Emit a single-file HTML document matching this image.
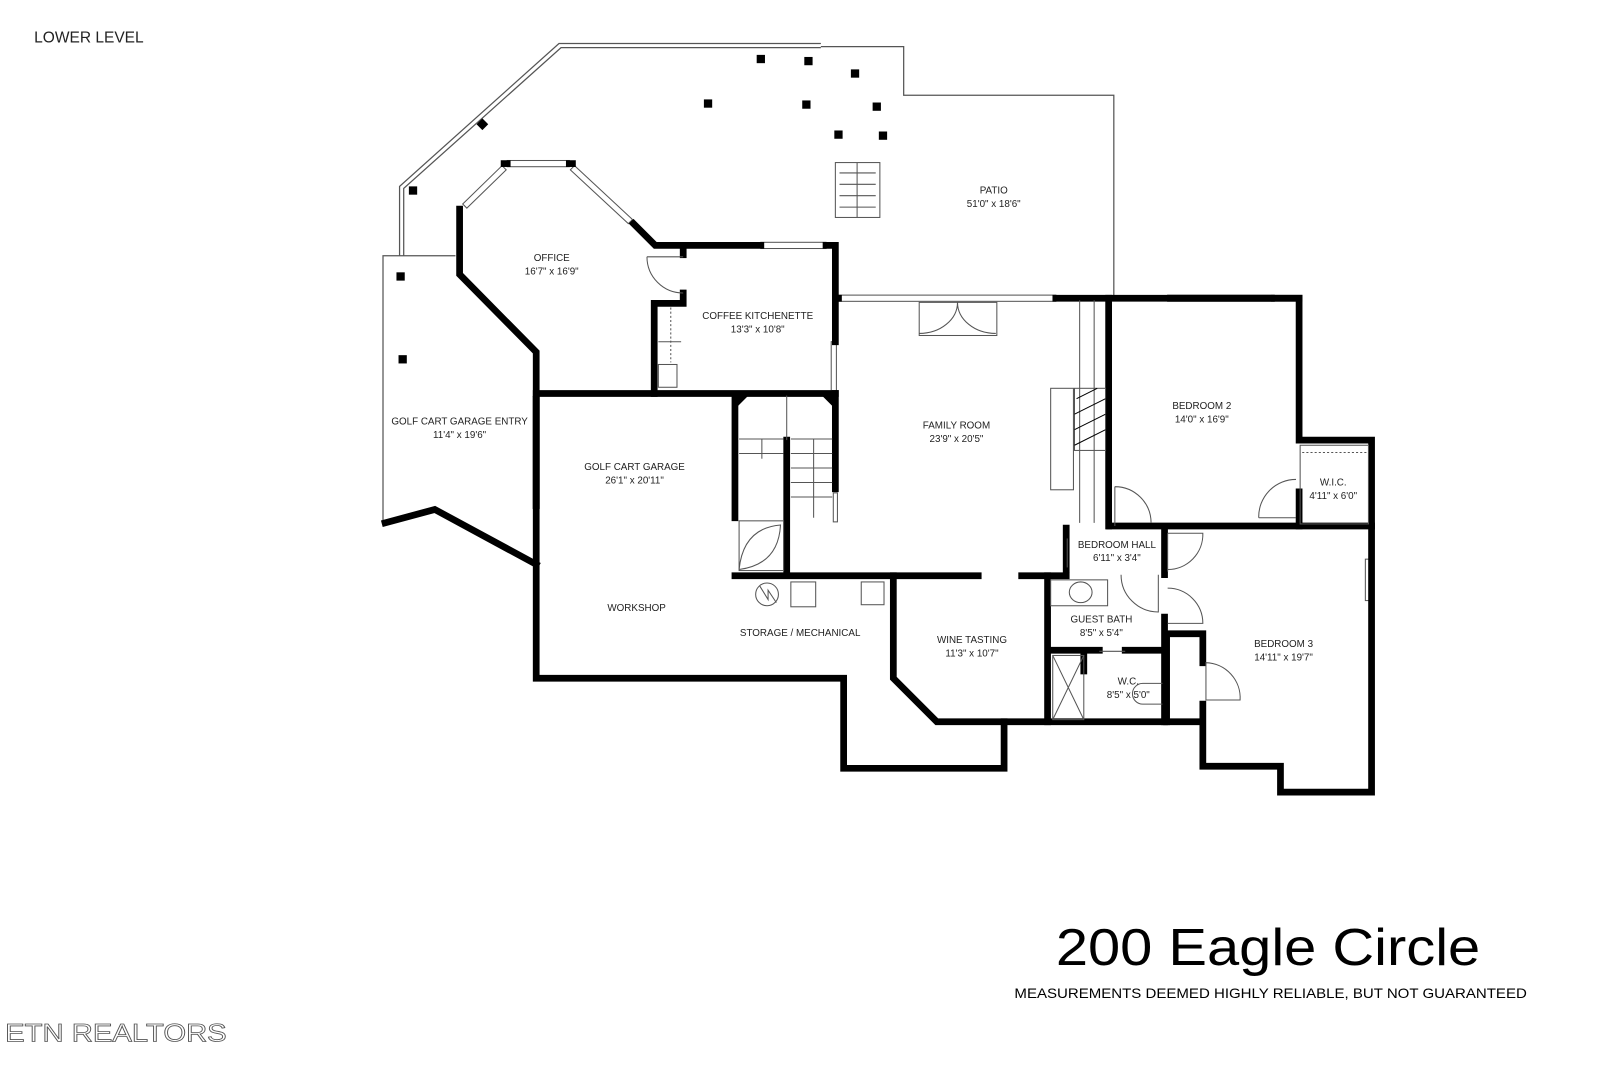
<!DOCTYPE html>
<html><head><meta charset="utf-8"><style>
html,body{margin:0;padding:0;background:#fff;width:1620px;height:1080px;overflow:hidden}
svg{display:block}
text{font-family:"Liberation Sans",sans-serif;fill:#222}
.l{font-size:9.5px;text-anchor:middle}
</style></head><body>
<svg width="1620" height="1080" viewBox="0 0 1565 1043" preserveAspectRatio="none" xmlns="http://www.w3.org/2000/svg">
<rect width="1565" height="1043" fill="#fff"/>
<g fill="none" stroke="#555" stroke-width="1.2">
<polyline points="386,247 386,180 540,42 793,42"/>
<polyline points="390,247 390,182 542,46 793,46"/>
<polyline points="793,45 873,45 873,92 1076,92 1076,286"/>
<polyline points="440,247 370,247 370,505"/>
</g>
<g fill="#000">
<rect x="731" y="53" width="8" height="8"/><rect x="777" y="55" width="8" height="8"/><rect x="822" y="67" width="8" height="8"/>
<rect x="680" y="96" width="8" height="8"/><rect x="775" y="97" width="8" height="8"/><rect x="843" y="99" width="8" height="8"/>
<rect x="806" y="126" width="8" height="8"/><rect x="849" y="127" width="8" height="8"/>
<rect x="462" y="116" width="8" height="8" transform="rotate(45 466 120)"/>
<rect x="395" y="180" width="8" height="8"/><rect x="383" y="263" width="8" height="8"/><rect x="385" y="343" width="8" height="8"/>
</g>
<g fill="none" stroke="#555" stroke-width="1">
<rect x="807" y="157" width="43" height="53"/><line x1="828" y1="157" x2="828" y2="210"/>
<line x1="811" y1="167" x2="846" y2="167"/><line x1="811" y1="178" x2="846" y2="178"/><line x1="811" y1="189" x2="846" y2="189"/><line x1="811" y1="200" x2="846" y2="200"/>
</g>
<g fill="#fff" stroke="#555" stroke-width="1">
<rect x="490" y="155" width="60" height="6"/>
<polygon points="447,197 485,160 489,164 451,201"/>
<polygon points="555,160 611,212 607,216 551,164"/>
<rect x="735" y="234" width="63" height="6"/>
<rect x="810" y="285" width="210" height="6"/>
<rect x="1128" y="285" width="103" height="6"/>
<rect x="515" y="383" width="6" height="108"/>
<rect x="1319" y="540" width="6" height="40"/>
<rect x="803" y="330" width="5" height="50"/>
<rect x="805" y="476" width="4" height="28"/>
</g>
<g fill="none" stroke="#000" stroke-width="6.5" stroke-linejoin="miter" stroke-linecap="square">
<polyline points="372,505 420,492 518,545"/>
<polyline points="444,202 444,265 518,340 518,655 815,655 815,742 970,742 970,697 1160,697"/>
<polyline points="487,158 490,158"/><polyline points="550,158 553,158"/>
<polyline points="612,216 633,237 735,237"/>
<polyline points="798,237 807,237 807,288 810,288"/>
<polyline points="660,237 660,246"/>
<polyline points="660,283 660,293 632,293 632,380"/>
<polyline points="518,380 807,380"/>
<polyline points="1020,288 1255,288"/>
<polyline points="1231,288 1255,288 1255,425 1325,425 1325,765 1237,765 1237,740 1162,740 1162,680"/>
<polyline points="1162,640 1162,612 1127,612 1127,697"/>
<polyline points="1071,288 1071,508"/>
<polyline points="1072,508 1325,508"/>
<polyline points="1255,475 1255,508"/>
<polyline points="807,330 807,288"/>
<polyline points="807,380 807,472"/>
<polyline points="710,385 710,500"/><polyline points="760,425 760,555"/>
<polyline points="710,556 945,556"/><polyline points="987,556 1030,556"/>
<polyline points="863,556 863,655 905,697 970,697"/>
<polyline points="1012,556 1012,697"/>
<polyline points="1030,510 1030,550"/>
<polyline points="1125,510 1125,555"/><polyline points="1125,596 1125,697"/>
<polyline points="1015,628 1062,628"/><polyline points="1087,628 1125,628"/>
<polyline points="1047,632 1047,648"/>
</g>
<g fill="#000"><polygon points="710,380 725,380 710,395"/><polygon points="807,380 792,380 807,395"/></g>
<g fill="none" stroke="#555" stroke-width="1">
<line x1="760" y1="382" x2="760" y2="425"/>
<line x1="714" y1="424" x2="757" y2="424"/><line x1="714" y1="438" x2="757" y2="438"/>
<line x1="764" y1="424" x2="804" y2="424"/><line x1="764" y1="438" x2="804" y2="438"/><line x1="764" y1="452" x2="804" y2="452"/><line x1="764" y1="466" x2="804" y2="466"/><line x1="764" y1="480" x2="804" y2="480"/>
<line x1="786" y1="424" x2="786" y2="500"/>
<line x1="736" y1="424" x2="736" y2="443"/>
<rect x="714" y="503" width="43" height="48"/>
<path d="M714,550 Q718,510 754,507 Q752,545 714,550"/>
<path d="M625,248 L660,248 M625,248 A35,35 0 0 0 660,283"/>
<rect x="888" y="292" width="75" height="32"/>
<path d="M925,292 A37,30 0 0 1 888,322 M925,292 A37,30 0 0 0 962,322"/>
<path d="M1077,470 L1077,508 M1077,470 A35,35 0 0 1 1112,505"/>
<path d="M1216,500 L1252,500 M1216,500 A36,36 0 0 1 1252,463"/>
<path d="M1128,515 L1128,552 M1128,515 L1162,515 A34,34 0 0 1 1128,550"/>
<path d="M1128,568 A34,34 0 0 1 1162,602 L1128,602"/>
<path d="M1165,640 A34,34 0 0 1 1198,676 L1165,676 Z"/>
<path d="M1083,555 A36,36 0 0 0 1119,591 L1119,555"/>
<rect x="1015" y="375" width="22" height="98"/>
<rect x="1038" y="375" width="30" height="60"/>
<line x1="1043" y1="290" x2="1043" y2="505"/><line x1="1057" y1="290" x2="1057" y2="505"/>
<rect x="1256" y="430" width="66" height="76"/>
<line x1="1258" y1="437" x2="1320" y2="437" stroke-dasharray="2,2"/>
<circle cx="741" cy="574" r="11"/><path d="M734,566 L742,579 L742,570 L750,582"/>
<rect x="764" y="562" width="24" height="24"/><rect x="832" y="562" width="22" height="22"/>
<rect x="1015" y="560" width="55" height="25"/><ellipse cx="1044" cy="572" rx="11" ry="10"/>
<rect x="1017" y="633" width="30" height="62"/><path d="M1017,633 L1047,695 M1047,633 L1017,695"/>
<path d="M1123,660 L1104,660 A10,10 0 0 0 1104,680 L1123,680"/>
<rect x="636" y="352" width="18" height="22"/>
<line x1="648" y1="297" x2="648" y2="350" stroke-dasharray="2,2"/>
<line x1="636" y1="330" x2="658" y2="330"/>
<line x1="1062" y1="629" x2="1087" y2="629"/>
<line x1="1031" y1="520" x2="1031" y2="548"/>
</g>
<g stroke="#000" stroke-width="1" fill="none">
<path d="M1040,385 L1060,375 M1038,400 L1068,385 M1038,415 L1068,400 M1038,430 L1068,415"/>
</g>
<text x="33" y="41" style="font-size:15px">LOWER LEVEL</text>
<text class="l" x="960" y="187">PATIO</text><text class="l" x="960" y="200">51'0" x 18'6"</text>
<text class="l" x="533" y="252">OFFICE</text><text class="l" x="533" y="265">16'7" x 16'9"</text>
<text class="l" x="732" y="308">COFFEE KITCHENETTE</text><text class="l" x="732" y="321">13'3" x 10'8"</text>
<text class="l" x="444" y="410">GOLF CART GARAGE ENTRY</text><text class="l" x="444" y="423">11'4" x 19'6"</text>
<text class="l" x="613" y="454">GOLF CART GARAGE</text><text class="l" x="613" y="467">26'1" x 20'11"</text>
<text class="l" x="615" y="590">WORKSHOP</text>
<text class="l" x="773" y="614">STORAGE / MECHANICAL</text>
<text class="l" x="924" y="414">FAMILY ROOM</text><text class="l" x="924" y="427">23'9" x 20'5"</text>
<text class="l" x="1161" y="395">BEDROOM 2</text><text class="l" x="1161" y="408">14'0" x 16'9"</text>
<text class="l" x="1288" y="469">W.I.C.</text><text class="l" x="1288" y="482">4'11" x 6'0"</text>
<text class="l" x="1079" y="529">BEDROOM HALL</text><text class="l" x="1079" y="542">6'11" x 3'4"</text>
<text class="l" x="1064" y="601">GUEST BATH</text><text class="l" x="1064" y="614">8'5" x 5'4"</text>
<text class="l" x="939" y="621">WINE TASTING</text><text class="l" x="939" y="634">11'3" x 10'7"</text>
<text class="l" x="1090" y="661">W.C.</text><text class="l" x="1090" y="674">8'5" x 5'0"</text>
<text class="l" x="1240" y="625">BEDROOM 3</text><text class="l" x="1240" y="638">14'11" x 19'7"</text>
<text x="1020" y="932" style="font-size:50px;fill:#000" textLength="410" lengthAdjust="spacingAndGlyphs">200 Eagle Circle</text>
<text x="980" y="964" style="font-size:13px;fill:#000" textLength="495" lengthAdjust="spacingAndGlyphs">MEASUREMENTS DEEMED HIGHLY RELIABLE, BUT NOT GUARANTEED</text>
<text x="5" y="1006" style="font-size:24px;fill:#fff;stroke:#555;stroke-width:0.8" textLength="214" lengthAdjust="spacingAndGlyphs">ETN REALTORS</text>
</svg>
</body></html>
